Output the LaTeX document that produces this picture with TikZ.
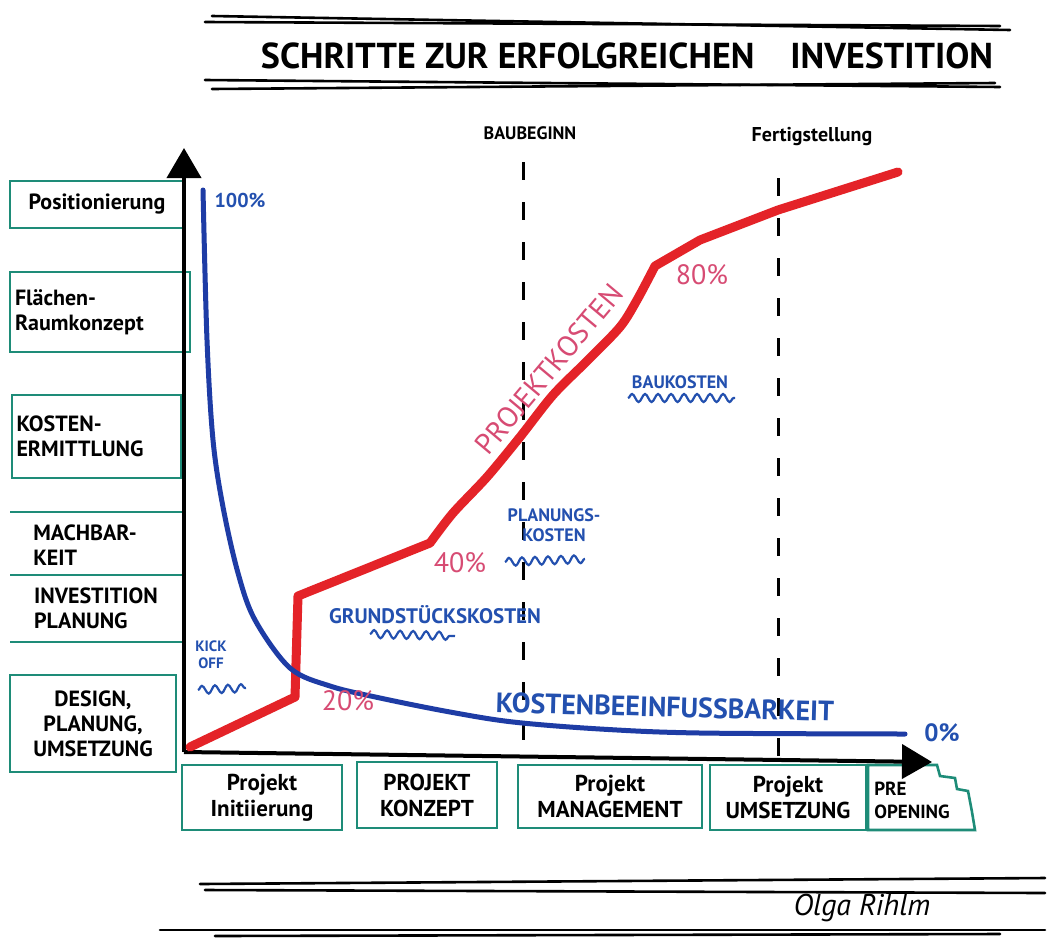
\documentclass[tikz,border=0pt]{standalone}
\usepackage{fontspec}
\setmainfont{PT Sans}
\usetikzlibrary{decorations.pathmorphing,arrows.meta}
\definecolor{teal1}{RGB}{30,140,120}
\definecolor{pred}{RGB}{228,35,40}
\definecolor{pblue}{RGB}{30,60,165}
\definecolor{pink1}{RGB}{215,75,115}
\definecolor{tblue}{RGB}{35,80,175}
\begin{document}
\begin{tikzpicture}[x=1pt,y=-1pt,
  tbox/.style={draw=teal1, line width=2.4pt, inner sep=0pt, text=black, align=center},
  lefttxt/.style={font=\bfseries\fontsize{22}{25}\selectfont},
  bottxt/.style={font=\bfseries\fontsize{23}{26}\selectfont},
  axis/.style={line width=4pt, black, -{Triangle[width=34pt,length=30pt]}},
  sketch/.style={line width=2.6pt, black, line cap=round},
  dline/.style={line width=3pt, black, dash pattern=on 18pt off 22pt},
  redc/.style={pred, line width=9pt, line cap=round, line join=round},
  bluec/.style={pblue, line width=5pt, line cap=round},
  redlab/.style={text=pink1, font=\fontsize{28}{30}\selectfont},
  bluelab/.style={text=tblue, align=center},
  wavy/.style={tblue, line width=2.2pt, decorate, decoration={snake, amplitude=4pt, segment length=13pt}},
  tealline/.style={teal1, line width=2.6pt}
]
\useasboundingbox (0,0) rectangle (1048,945);
\fill[white] (0,0) rectangle (1048,945);

% title lines
\draw[sketch] (212,16) -- (1010,30);
\draw[sketch] (205,22) -- (1000,26);
\draw[sketch] (205,80) -- (1000,87);
\draw[sketch] (212,89) -- (995,83);
\node[font=\bfseries\fontsize{36}{38}\selectfont] (title) at (627,56) {SCHRITTE ZUR ERFOLGREICHEN\quad INVESTITION};

% bottom lines and signature
\draw[sketch] (200,884) -- (1045,878);
\draw[sketch] (205,890) -- (1045,893);
\draw[sketch] (160,930) -- (1045,930);
\draw[sketch] (215,936) -- (1000,934);
\node[font=\fontsize{30}{32}\selectfont\itshape] (sig) at (862,908) {Olga Rihlm};

% left boxes
\node[tbox, lefttxt, minimum width=174pt, minimum height=47pt] (lb1) at (97,204.5) {Positionierung};
\node[tbox, lefttxt, minimum width=180pt, minimum height=80pt, align=left, text width=170pt] (lb2) at (100,312) {Flächen-\\Raumkonzept};
\node[tbox, lefttxt, minimum width=169pt, minimum height=83pt, align=left, text width=160pt] (lb3) at (96.5,436.5) {KOSTEN-\\ERMITTLUNG};
\coordinate (m1a) at (10,512); \coordinate (m1b) at (183,512);
\coordinate (m2a) at (10,575); \coordinate (m2b) at (183,575);
\coordinate (m3a) at (10,642); \coordinate (m3b) at (183,642);
\draw[tealline] (m1a) -- (m1b);
\draw[tealline] (m2a) -- (m2b);
\draw[tealline] (m3a) -- (m3b);
\node[lefttxt, align=left] (lb4a) at (85,545) {MACHBAR-\\KEIT};
\node[lefttxt, align=left] (lb4b) at (96,608) {INVESTITION\\PLANUNG};
\node[tbox, lefttxt, minimum width=166pt, minimum height=97pt] (lb5) at (93,723.5) {DESIGN,\\PLANUNG,\\UMSETZUNG};

% bottom boxes
\node[tbox, bottxt, minimum width=160pt, minimum height=65pt] (bb1) at (262,797.5) {Projekt\\Initiierung};
\node[tbox, bottxt, minimum width=140pt, minimum height=66pt] (bb2) at (427,795) {PROJEKT\\KONZEPT};
\node[tbox, bottxt, minimum width=184pt, minimum height=63pt] (bb3) at (610,796.5) {Projekt\\MANAGEMENT};
\node[tbox, bottxt, minimum width=156pt, minimum height=65pt] (bb4) at (788,797.5) {Projekt\\UMSETZUNG};
\draw[tealline] (868,765) -- (937,765) -- (940,776) -- (955,778) -- (957,789) -- (968,791) -- (972,812) -- (975,830) -- (868,830) -- cycle;
\node[font=\bfseries\fontsize{19}{23}\selectfont, align=left] (bb5) at (912,800) {PRE\\OPENING};

% dashed milestones
\node[font=\bfseries\fontsize{18}{20}\selectfont] (bau) at (530,133) {BAUBEGINN};
\node[font=\bfseries\fontsize{20}{22}\selectfont] (fert) at (812,137) {Fertigstellung};
\coordinate (d1t) at (523,162); \coordinate (d1b) at (523,758);
\coordinate (d2t) at (778,178); \coordinate (d2b) at (778,762);
\draw[dline] (d1t) -- (d1b);
\draw[dline] (d2t) -- (d2b);

% axes
\coordinate (O) at (184,752);
\coordinate (ytip) at (184,148);
\coordinate (xtip) at (932,762);
\draw[axis] (O) -- (ytip);
\draw[axis] (O) -- (xtip);

% red curve
\draw[redc] (190,747) -- (295,697) -- (298,596) -- (430,543)
  -- plot[smooth, tension=0.5] coordinates {(430,543) (453,513) (487,477) (520,437) (553,395) (587,361) (620,327) (637,300) (655,266)}
  -- (700,240) -- (778,210) -- (898,172);

% blue curve
\draw[bluec] plot[smooth, tension=0.55] coordinates {(203,190) (207,340) (213,440) (223,507) (238,573) (255,620) (290,668) (330,686) (380,698) (450,712) (513,722) (600,729) (700,733) (905,734)};

% labels
\node[bluelab, font=\bfseries\fontsize{20}{22}\selectfont] (p100) at (240,200) {100\%};
\node[bluelab, font=\bfseries\fontsize{25}{26}\selectfont] (p0) at (942,733) {0\%};
\node[redlab] (p20) at (348,701) {20\%};
\node[redlab] (p40) at (460,563) {40\%};
\node[redlab] (p80) at (702,275) {80\%};
\node[text=pink1, font=\fontsize{29}{31}\selectfont, rotate=50, inner sep=0pt] (pk) at (549,369) {PROJEKTKOSTEN};

\node[bluelab, font=\bfseries\fontsize{28}{30}\selectfont, rotate=-1.5] (keb) at (665,707) {KOSTENBEEINFUSSBARKEIT};
\node[bluelab, font=\bfseries\fontsize{21}{23}\selectfont] (gk) at (435,615) {GRUNDSTÜCKSKOSTEN};
\draw[wavy] (370,634) -- (455,636);
\node[bluelab, font=\bfseries\fontsize{15}{17}\selectfont] (ko) at (211,655) {KICK\\OFF};
\draw[wavy] (198,690) -- (246,688);
\node[bluelab, font=\bfseries\fontsize{18}{20}\selectfont] (pl) at (554,525) {PLANUNGS-\\KOSTEN};
\draw[wavy] (505,562) -- (585,559);
\node[bluelab, font=\bfseries\fontsize{18}{20}\selectfont] (bk) at (680,382) {BAUKOSTEN};
\draw[wavy] (628,398) -- (735,398);
\end{tikzpicture}
\end{document}
